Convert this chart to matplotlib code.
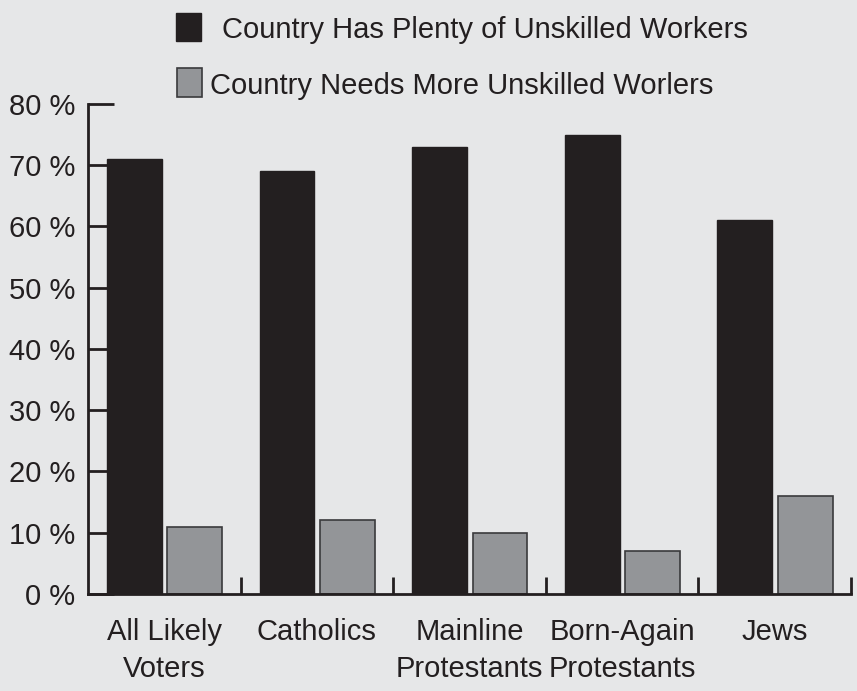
import matplotlib.pyplot as plt
import numpy as np
from matplotlib.patches import Rectangle

groups = ['All Likely\nVoters', 'Catholics', 'Mainline\nProtestants',
          'Born-Again\nProtestants', 'Jews']
plenty = [71, 69, 73, 75, 61]
needs = [11, 12, 10, 7, 16]
yticks = [0, 10, 20, 30, 40, 50, 60, 70, 80]

bg = '#e6e7e8'
dark = '#231f20'
grey = '#939598'

plt.rcParams['font.family'] = ['Liberation Sans', 'DejaVu Sans']

fig = plt.figure(figsize=(8.57, 6.91), dpi=100, facecolor=bg)
ax = fig.add_axes([0.1027, 0.1404, 0.8903, 0.7091])
ax.set_facecolor(bg)

x = np.arange(len(groups)) + 0.5
w = 0.36
ax.bar(x - 0.196, plenty, w, color=dark, edgecolor=dark, linewidth=1)
ax.bar(x + 0.2, needs, w, color=grey, edgecolor='#3a3a3c', linewidth=1.2)

ax.set_xlim(0, len(groups))
ax.set_ylim(0, 80)
ax.set_yticks(yticks)
ax.set_yticklabels([f'{v} %' for v in yticks])
ax.set_xticks(x)
ax.set_xticklabels(groups, linespacing=1.45)
ax.set_xticks(np.arange(1, len(groups) + 1), minor=True)

ax.tick_params(axis='y', direction='in', length=19, width=2, color=dark,
               labelsize=21, labelcolor=dark, pad=9)
ax.tick_params(axis='x', which='major', length=0, labelsize=21,
               labelcolor=dark, pad=17)
ax.tick_params(axis='x', which='minor', direction='in', length=12, width=2,
               color=dark)

for s in ['top', 'right']:
    ax.spines[s].set_visible(False)
for s in ['left', 'bottom']:
    ax.spines[s].set_linewidth(2)
    ax.spines[s].set_color(dark)

# legend drawn by hand
fig.patches.append(Rectangle((176 / 857, 1 - 41 / 691), 25 / 857, 28 / 691,
                             transform=fig.transFigure, facecolor=dark,
                             edgecolor=dark))
fig.patches.append(Rectangle((177 / 857, 1 - 97 / 691), 25 / 857, 29 / 691,
                             transform=fig.transFigure, facecolor=grey,
                             edgecolor='#3a3a3c', linewidth=1.2))
fig.text(222 / 857, 1 - 30 / 691, 'Country Has Plenty of Unskilled Workers',
         fontsize=21, color=dark, va='center', ha='left')
fig.text(210 / 857, 1 - 86 / 691, 'Country Needs More Unskilled Worlers',
         fontsize=21, color=dark, va='center', ha='left')

fig.savefig('out.png', dpi=100, facecolor=bg)
